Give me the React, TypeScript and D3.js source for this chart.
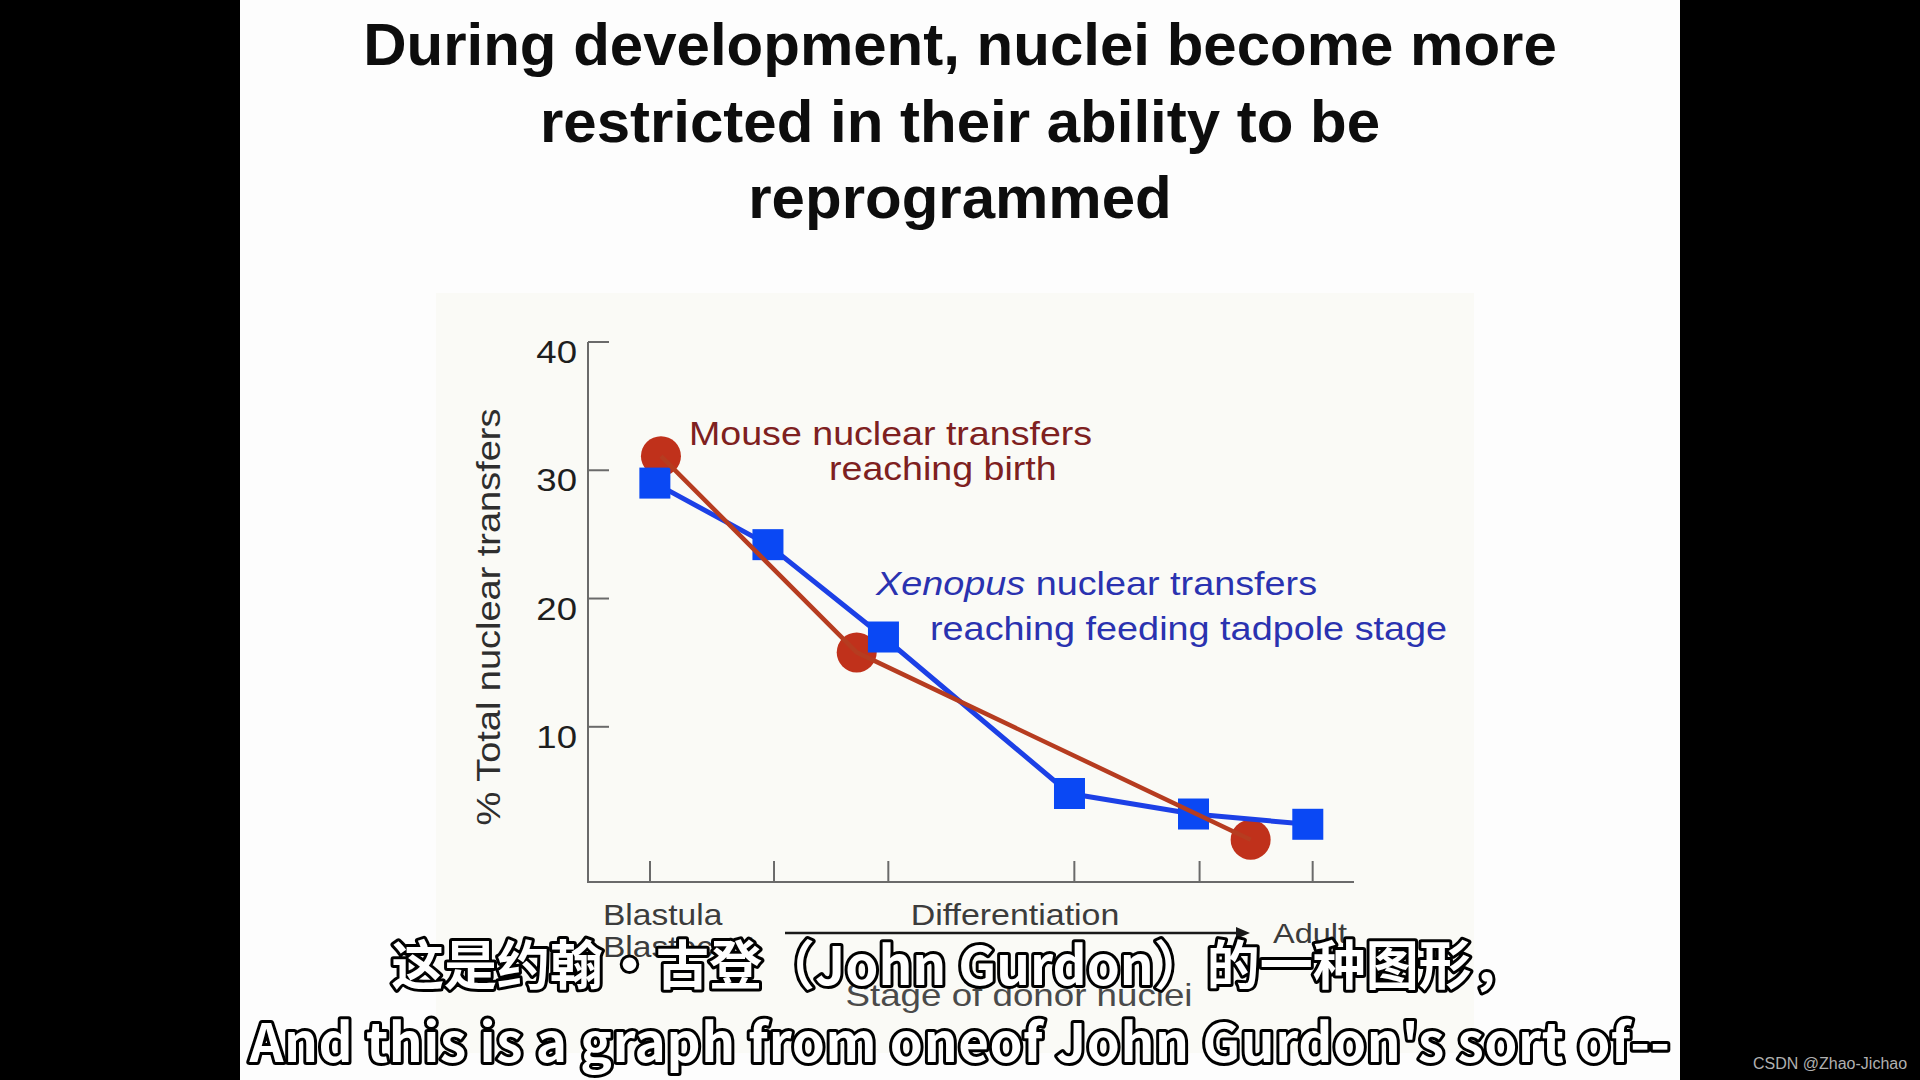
import React from "react";
import * as d3 from "d3";

// ---- data ----
const titleLines = [
  "During development, nuclei become more",
  "restricted in their ability to be",
  "reprogrammed",
];
const stageTicks = [1.01, 2.03, 2.97, 4.5, 5.53, 6.46];
const pctTicks = [10, 20, 30, 40];
const xenopusStage = [1.05, 1.98, 2.93, 4.46, 5.48, 6.42];
const xenopusPct = [29.0, 24.2, 17.0, 4.8, 3.2, 2.4];
const mouseStage = [1.1, 2.71, 5.95];
const mousePct = [31.1, 15.8, 1.2];
const subtitleZh = "这是约翰·古登（John Gurdon）的一种图形，";
const subtitleEn = "And this is a graph from oneof John Gurdon's sort of--";

const W = 1920;
const H = 1080;
const FONT = "'Liberation Sans', Arial, Helvetica, sans-serif";

type TProps = {
  x: number;
  y: number;
  size: number;
  fill: string;
  s?: number;
  rotate?: number;
  anchor?: "start" | "middle" | "end";
  weight?: number | string;
  children: React.ReactNode;
};

function T({ x, y, size, fill, s = 1.145, rotate = 0, anchor = "start", weight = 400, children }: TProps) {
  return (
    <text
      transform={`translate(${x},${y}) rotate(${rotate}) scale(${s},1)`}
      fontFamily={FONT}
      fontSize={size}
      fill={fill}
      fontWeight={weight}
      textAnchor={anchor}
    >
      {children}
    </text>
  );
}

export default function App() {
  const x = d3.scaleLinear().domain([0.5, 6.8]).range([588, 1354]);
  const y = d3.scaleLinear().domain([-2.1, 40]).range([882, 342]);

  const xen = xenopusStage.map((s, i) => [s, xenopusPct[i]] as [number, number]);
  const mouse = mouseStage.map((s, i) => [s, mousePct[i]] as [number, number]);
  const line = d3
    .line<[number, number]>()
    .x((d) => x(d[0]))
    .y((d) => y(d[1]));

  const axisColor = "#6a6a6a";
  const blueLine = "#1c40e6";
  const blueMark = "#0a48f4";
  const redLine = "#b63c20";
  const redMark = "#c0311b";
  const sq = 31;

  const x0 = x.range()[0];
  const x1 = x.range()[1];
  const yBottom = y.range()[0];
  const yTop = y(40);

  return (
    <svg
      width={W}
      height={H}
      style={{ position: "absolute", left: 0, top: 0 }}
      xmlns="http://www.w3.org/2000/svg"
    >
      <rect x={0} y={0} width={W} height={H} fill="#000" />
      <rect x={240} y={0} width={1440} height={H} fill="#fdfdfd" />
      <rect x={436} y={293} width={1038} height={760} fill="#fafaf6" />

      {/* title */}
      {titleLines.map((t, i) => (
        <text
          key={i}
          x={960}
          y={65 + i * 76.5}
          textAnchor="middle"
          fontFamily={FONT}
          fontWeight={700}
          fontSize={60}
          fill="#0d0d0d"
        >
          {t}
        </text>
      ))}

      {/* axes */}
      <g stroke={axisColor} strokeWidth={2} fill="none">
        <line x1={x0} y1={yTop} x2={x0} y2={yBottom} />
        <line x1={x0 - 1} y1={yBottom} x2={x1} y2={yBottom} />
        {pctTicks.map((v) => (
          <line key={v} x1={x0} y1={y(v)} x2={x0 + 21} y2={y(v)} />
        ))}
        {stageTicks.map((v) => (
          <line key={v} x1={x(v)} y1={yBottom} x2={x(v)} y2={yBottom - 21} />
        ))}
      </g>
      {pctTicks.map((v) => (
        <T key={v} x={577} y={y(v) + 21} size={31} s={1.18} fill="#1e1e1e" anchor="end">
          {String(v)}
        </T>
      ))}
      <T x={500} y={617} size={33} s={1.15} rotate={-90} anchor="middle" fill="#2e2e2e">
        % Total nuclear transfers
      </T>

      {/* x-axis annotations */}
      <T x={603} y={925} size={29} s={1.157} fill="#3c3c3c">
        Blastula
      </T>
      <T x={603} y={957} size={29} s={1.157} fill="#3c3c3c">
        Blastocyst
      </T>
      <T x={1015} y={925} size={29} s={1.17} fill="#3c3c3c" anchor="middle">
        Differentiation
      </T>
      <line x1={785} y1={933} x2={1240} y2={933} stroke="#1a1a1a" strokeWidth={2.5} />
      <path d="M1250,933 L1236,927 L1236,939 Z" fill="#1a1a1a" />
      <T x={1273} y={943} size={28} s={1.16} fill="#3c3c3c">
        Adult
      </T>
      <T x={1019} y={1006} size={31} s={1.185} fill="#4a4a4a" anchor="middle">
        Stage of donor nuclei
      </T>

      {/* series */}
      {mouse.map((d, i) => (
        <circle key={i} cx={x(d[0])} cy={y(d[1])} r={20} fill={redMark} />
      ))}
      <path d={line(xen) ?? ""} fill="none" stroke={blueLine} strokeWidth={5} strokeLinejoin="round" />
      {xen.map((d, i) => (
        <rect key={i} x={x(d[0]) - sq / 2} y={y(d[1]) - sq / 2} width={sq} height={sq} fill={blueMark} />
      ))}
      <path d={line(mouse) ?? ""} fill="none" stroke={redLine} strokeWidth={4.5} strokeLinejoin="round" />

      {/* series labels */}
      <T x={689} y={445} size={33} s={1.139} fill="#7e2020">
        Mouse nuclear transfers
      </T>
      <T x={829} y={480} size={33} s={1.139} fill="#7e2020">
        reaching birth
      </T>
      <text
        transform={`translate(876,595) scale(1.145,1)`}
        fontFamily={FONT}
        fontSize={33}
        fill="#2a32b0"
      >
        <tspan fontStyle="italic">Xenopus</tspan> nuclear transfers
      </text>
      <T x={930} y={640} size={33} s={1.146} fill="#2a32b0">
        reaching feeding tadpole stage
      </T>

      {/* subtitles */}
      <g
        fontFamily="'Noto Sans CJK SC', 'Noto Sans', sans-serif"
        fontWeight={700}
        fill="#ffffff"
        stroke="#000000"
        strokeWidth={6}
        strokeLinejoin="round"
        style={{ paintOrder: "stroke" }}
        textAnchor="middle"
      >
        <text x={958} y={985} fontSize={53}>
          {subtitleZh}
        </text>
        <text x={960} y={1062} fontSize={53} letterSpacing={0.6}>
          {subtitleEn}
        </text>
      </g>

      <text
        x={1753}
        y={1069}
        fontFamily={FONT}
        fontSize={16}
        fill="#b0b0b0"
      >
        CSDN @Zhao-Jichao
      </text>
    </svg>
  );
}
